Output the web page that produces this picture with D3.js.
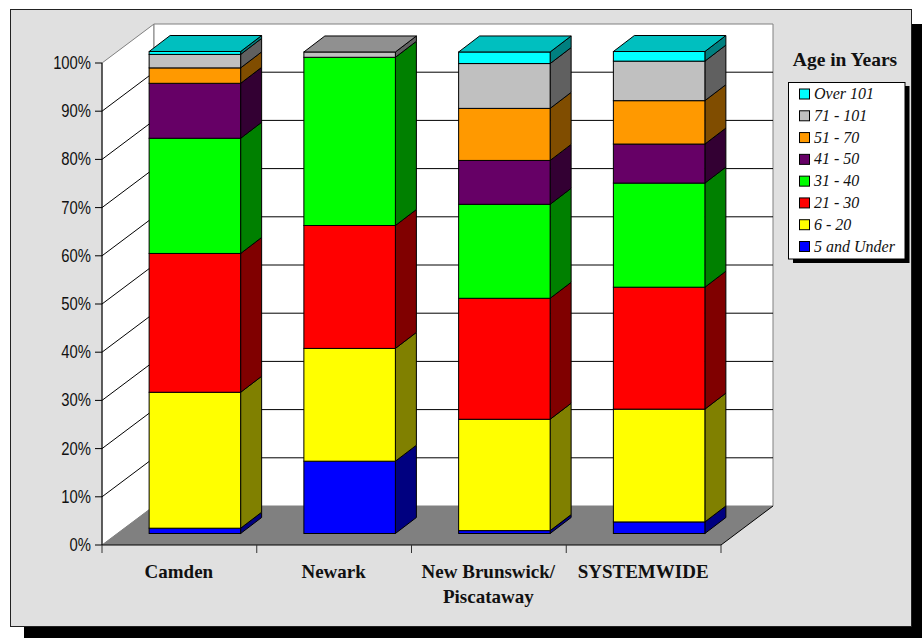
<!DOCTYPE html>
<html><head><meta charset="utf-8">
<script src="https://cdn.jsdelivr.net/npm/d3@7"></script>
<style>html,body{margin:0;padding:0;background:#fff;overflow:hidden}svg{display:block}</style>
</head><body><svg id="c" width="922" height="638"></svg>
<script>
const categories = ["Camden","Newark","New Brunswick/|Piscataway","SYSTEMWIDE"];
const seriesNames = ["5 and Under","6 - 20","21 - 30","31 - 40","41 - 50","51 - 70","71 - 101","Over 101"];
const seriesColors = ["#0000ff","#ffff00","#ff0000","#00ff00","#660066","#ff9900","#c0c0c0","#00ffff"];
const under5 = [1.1,15.0,0.6,2.4];
const age6to20 = [28.2,23.4,23.1,23.4];
const age21to30 = [28.8,25.5,25.1,25.3];
const age31to40 = [23.9,34.9,19.5,21.6];
const age41to50 = [11.4,0,9.1,8.1];
const age51to70 = [3.2,0,10.8,9.0];
const age71to101 = [2.8,1.1,9.3,8.2];
const over101 = [0.6,0,2.4,2.0];
const seriesValues = [under5,age6to20,age21to30,age31to40,age41to50,age51to70,age71to101,over101];
const yTicks = [0,10,20,30,40,50,60,70,80,90,100];

const svg = d3.select("#c");
const SANS = "'Liberation Sans',Arial,sans-serif";
const SERIF = "'Liberation Serif','Times New Roman',serif";

// panel
svg.append("rect").attr("x",24).attr("y",24).attr("width",898).attr("height",614).attr("fill","#000");
svg.append("rect").attr("x",10.5).attr("y",9.5).attr("width",901).attr("height",617).attr("fill","#e0e0e0").attr("stroke","#222");

const x = d3.scaleBand().domain(categories).range([102,721]).padding(0);
const y = d3.scaleLinear().domain([0,100]).range([545,63]);
const DX = 52, DY = 39;         // wall depth
const bdx = 21, bdy = 16;       // bar depth
const insetX = 15.5, insetY = 11.5; // bar front inset from front plane
const barW = 91.5;

const g = svg.append("g");
const poly = pts => pts.map(p=>p.join(",")).join(" ");

// walls and floor
g.append("polygon").attr("points",poly([[102,y(0)],[102,y(100)],[102+DX,y(100)-DY],[102+DX,y(0)-DY]])).attr("fill","#fff").attr("stroke","#808080");
g.append("polygon").attr("points",poly([[102+DX,y(0)-DY],[102+DX,y(100)-DY],[721+DX,y(100)-DY],[721+DX,y(0)-DY]])).attr("fill","#fff").attr("stroke","#808080");
g.append("polygon").attr("points",poly([[102,y(0)],[721,y(0)],[721+DX,y(0)-DY],[102+DX,y(0)-DY]])).attr("fill","#808080");
g.append("line").attr("x1",721).attr("y1",y(0)).attr("x2",721+DX).attr("y2",y(0)-DY).attr("stroke","#000");

// gridlines
g.selectAll("path.grid").data(yTicks.slice(1,-1)).join("path").attr("class","grid")
  .attr("d",t=>`M102,${y(t)}L${102+DX},${y(t)-DY}L${721+DX},${y(t)-DY}`)
  .attr("fill","none").attr("stroke","#000").attr("stroke-width",1);

// axes
const axL = d3.axisLeft(y).tickValues(yTicks).tickFormat(d=>d+"%").tickSize(7).tickPadding(3).offset(0);
const axLg = svg.append("g").attr("transform","translate(102,0)").call(axL);
axLg.selectAll("text").attr("font-family",SANS).attr("font-size",19).attr("fill","#111")
  .attr("x",0).attr("transform","translate(-11,0) scale(0.78,1)");
axLg.selectAll("line").attr("stroke","#000");
axLg.select(".domain").attr("stroke","#000").attr("d",`M0,${y(100)}V${y(0)}`);

const axB = d3.axisBottom(x).tickValues([]).tickSize(0);
const axBg = svg.append("g").attr("transform",`translate(0,${y(0)})`).call(axB);
axBg.select(".domain").attr("stroke","#000").attr("stroke-width",1.2).attr("d","M102,0H721");
axBg.selectAll("line.sep").data([...categories.map(c=>x(c)),721]).join("line").attr("class","sep")
  .attr("x1",d=>d).attr("x2",d=>d).attr("y1",0).attr("y2",8).attr("stroke","#333");
axBg.selectAll("text.cat").data(categories).join("text").attr("class","cat")
  .attr("text-anchor","middle").attr("font-family",SERIF).attr("font-weight","bold").attr("font-size",19).attr("fill","#111")
  .each(function(c){
    const t=d3.select(this);
    c.split("|").forEach((s,i)=>t.append("tspan").attr("x",x(c)+x.bandwidth()/2-0.5).attr("y",33+i*25).text(s));
  });

// stacked bars
const table = categories.map((c,i)=>{const o={c};seriesNames.forEach((s,j)=>o[s]=seriesValues[j][i]);return o;});
const stacked = d3.stack().keys(seriesNames)(table);
const dark = (col,k)=>{const r=d3.rgb(col);return d3.rgb(r.r*k,r.g*k,r.b*k).formatHex();};

categories.forEach((c,ci)=>{
  const bx = x(c)+(x.bandwidth()-barW)/2+insetX;
  const by = v=>y(v)-insetY;
  const bar = g.append("g");
  let topIdx = 0;
  stacked.forEach((s,si)=>{
    const [a,b]=s[ci];
    if(b-a<=0) return;
    topIdx=si;
    const col=seriesColors[si];
    bar.append("polygon").attr("points",poly([[bx+barW,by(a)],[bx+barW+bdx,by(a)-bdy],[bx+barW+bdx,by(b)-bdy],[bx+barW,by(b)]]))
      .attr("fill",dark(col,.5)).attr("stroke","#000");
    bar.append("rect").attr("x",bx).attr("y",by(b)).attr("width",barW).attr("height",by(a)-by(b))
      .attr("fill",col).attr("stroke","#000");
  });
  const t=by(stacked[topIdx][ci][1]);
  bar.append("polygon").attr("points",poly([[bx,t],[bx+bdx,t-bdy],[bx+barW+bdx,t-bdy],[bx+barW,t]]))
    .attr("fill",dark(seriesColors[topIdx],.75)).attr("stroke","#000");
});

// legend
svg.append("text").attr("x",845).attr("y",66).attr("text-anchor","middle").attr("font-family",SERIF).attr("font-weight","bold").attr("font-size",19.5).attr("fill","#111").text("Age in Years");
svg.append("rect").attr("x",793).attr("y",86).attr("width",116.5).attr("height",177).attr("fill","#000");
svg.append("rect").attr("x",788.5).attr("y",82.5).attr("width",116.5).attr("height",176.5).attr("fill","#fff").attr("stroke","#000");
const legY = d3.scalePoint().domain([...seriesNames].reverse()).range([94,246.5]);
const leg = svg.append("g").selectAll("g").data(legY.domain()).join("g").attr("transform",d=>`translate(0,${legY(d)})`);
leg.append("rect").attr("x",799.5).attr("y",-5).attr("width",10).attr("height",10)
  .attr("fill",d=>seriesColors[seriesNames.indexOf(d)]).attr("stroke","#000");
leg.append("text").attr("x",814).attr("y",5).attr("font-family",SERIF).attr("font-style","italic").attr("font-size",16).attr("fill","#111").text(d=>d);
</script></body></html>
